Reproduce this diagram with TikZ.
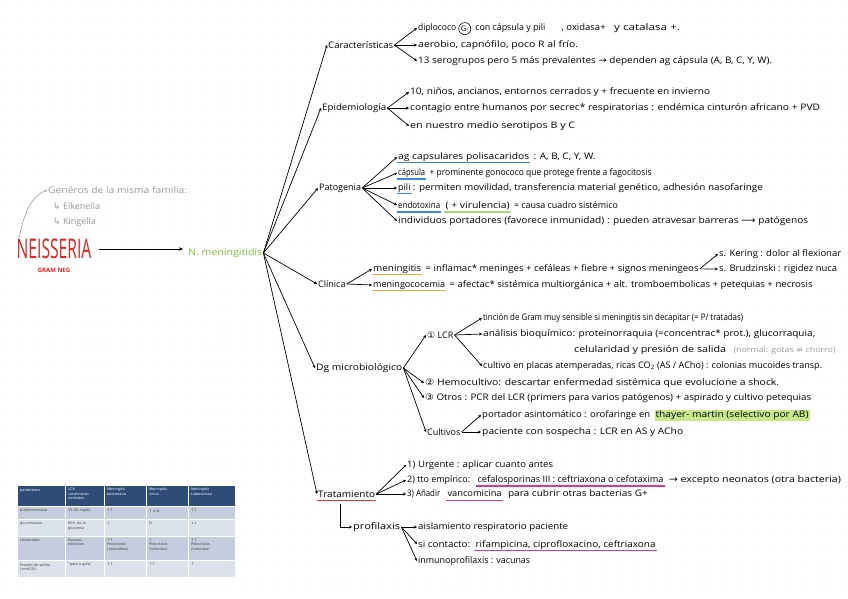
\documentclass[tikz,border=0pt]{standalone}
\usepackage{fontspec}
\setmainfont{Open Sans}
\newfontfamily\symfont{DejaVu Sans}
\usetikzlibrary{arrows.meta,positioning}
\definecolor{neisred}{HTML}{E3231E}
\definecolor{nmgreen}{HTML}{7CC23A}
\definecolor{famgrey}{HTML}{9A9A9A}
\definecolor{ulblue}{HTML}{3B87E6}
\definecolor{ulgreen}{HTML}{A9D870}
\definecolor{hlgreen}{HTML}{C6E98A}
\definecolor{ulorange}{HTML}{F2A43A}
\definecolor{ulpink}{HTML}{E23790}
\definecolor{ulred}{HTML}{E2302E}
\definecolor{tabhead}{HTML}{2E4C77}
\definecolor{tabdark}{HTML}{C3CDDD}
\definecolor{tablight}{HTML}{DCE2EC}
% stretch a handwritten line to the width it has in the notes
\newcommand{\fitw}[2]{\setbox0\hbox{#2}\pgfmathsetmacro\fitscale{#1/\wd0}\scalebox{\fitscale}[1]{\box0}}

\begin{document}
\begin{tikzpicture}[x=1pt,y=-1pt,every node/.style={font=\fontsize{9}{10}\selectfont,inner sep=1pt},
  item/.style={anchor=west},
  seg/.style={anchor=base west},
  fan/.style={line width=0.7pt,-{Stealth[length=3pt,width=3pt]}},
  ul/.style={draw=#1,line width=1.3pt},
  tabtxt/.style={anchor=north west,font=\symfont\fontsize{3.5}{4.2}\selectfont,text width=38pt,align=left,inner sep=0pt,text=black!75}]
\fill[white] (0,0) rectangle (848,599);
\useasboundingbox (0,0) rectangle (848,599);
\foreach \i in {0,...,56}
  \foreach \j in {0,...,39}
    \fill[black!13] (\i*15+6,\j*15+6) circle (0.5);

% genus
\node[item,text=famgrey] (fam) at (47,190) {\fitw{139}{Genéros de la misma familia:}};
\node[item,text=famgrey] (eik) at (52,206) {{\symfont ↳} Eikenella};
\node[item,text=famgrey] (kin) at (52,222) {{\symfont ↳} Kingella};
\node[text=neisred,font=\fontsize{27}{27}\selectfont] (neis) at (54,249) {\scalebox{0.58}[1]{NEISSERIA}};
\node[text=neisred,font=\bfseries\fontsize{6}{6}\selectfont] (gram) at (54,270) {GRAM NEG};
\node[item,text=nmgreen,font=\fontsize{9.2}{10}\selectfont] (nm) at (187,253) {\fitw{74}{N. meningitidis}};
\draw[famgrey,line width=0.6pt,-{Stealth[length=2.5pt,width=2.5pt]}] (neis.north west) ++(4,-1) .. controls (24,212) and (32,196) .. (fam.west);
\draw[line width=1pt,-{Stealth[length=4pt,width=3.5pt]},shorten <=6pt,shorten >=4pt] (neis.east) -- (nm.west |- neis.east);

% branches
\node[item] (car) at (327,45) {\fitw{65}{Características}};
\node[item] (epi) at (321,108) {\fitw{64}{Epidemiología}};
\node[item] (pat) at (318,188) {Patogenia};
\node[item] (cli) at (317,284) {Clínica};
\node[item] (dg) at (315,368) {\fitw{86}{Dg microbiológico}};
\node[item] (tra) at (317,494) {\fitw{57}{Tratamiento}};
\foreach \c in {car,epi,pat,cli,dg,tra}
  \draw[fan] (nm.east) -- (\c.west);

% caracteristicas
\node[item] (c1) at (417,28) {\fitw{38}{diplococo}};
\node[seg,circle,draw,line width=0.6pt,inner sep=0.9pt,font=\fontsize{7.5}{7.5}\selectfont] (c1g) at ([xshift=1pt,yshift=-1pt]c1.base east) {G-};
\node[seg] (c1b) at ([xshift=3pt,yshift=1pt]c1g.base east) {\fitw{70}{con cápsula y pili}};
\node[seg] (c1c) at ([xshift=14pt]c1b.base east) {\fitw{44}{, oxidasa+}};
\node[seg] (c1d) at ([xshift=6pt]c1c.base east) {\fitw{66}{y catalasa +.}};
\node[item] (c2) at (417,45) {\fitw{160}{aerobio, capnófilo, poco R al frío.}};
\node[item] (c3) at (417,61) {\fitw{354}{13 serogrupos pero 5 más prevalentes {\symfont →} dependen ag cápsula (A, B, C, Y, W).}};
\foreach \i in {c1,c2,c3}
  \draw[fan] (car.east) -- (\i.west);

% epidemiologia
\node[item] (e1) at (409,92) {\fitw{300}{10, niños, ancianos, entornos cerrados y + frecuente en invierno}};
\node[item] (e2) at (409,108) {\fitw{410}{contagio entre humanos por secrec* respiratorias : endémica cinturón africano + PVD}};
\node[item] (e3) at (409,126) {\fitw{165}{en nuestro medio serotipos B y C}};
\foreach \i in {e1,e2,e3}
  \draw[fan] (epi.east) -- (\i.west);

% patogenia
\node[item] (p1) at (397,157) {\fitw{131}{ag capsulares polisacaridos}};
\node[seg] (p1b) at ([xshift=2pt]p1.base east) {\fitw{62}{: A, B, C, Y, W.}};
\node[item] (p2) at (397,173) {\fitw{27}{cápsula}};
\node[seg] (p2b) at ([xshift=2pt]p2.base east) {\fitw{222}{+ prominente gonococo que protege frente a fagocitosis}};
\node[item] (p3) at (397,188) {pili};
\node[seg] (p3b) at (p3.base east) {\fitw{350}{: permiten movilidad, transferencia material genético, adhesión nasofaringe}};
\node[item] (p4) at (397,205) {\fitw{42}{endotoxina}};
\node[seg] (p4b) at ([xshift=3pt]p4.base east) {\fitw{64}{( + virulencia)}};
\node[seg] (p4c) at ([xshift=2pt]p4b.base east) {\fitw{104}{= causa cuadro sistémico}};
\node[item] (p5) at (397,221) {\fitw{410}{individuos portadores (favorece inmunidad) : pueden atravesar barreras {\symfont ⟶} patógenos}};
\foreach \i in {p1,p2,p3,p4,p5}
  \draw[fan] (pat.east) -- (\i.west);
\foreach \i in {p1,p2,p3,p4}
  \draw[ul=ulblue] ([yshift=-3.5pt]\i.base west) -- ([yshift=-3.5pt]\i.base east);
\draw[ul=ulgreen] ([yshift=-3.5pt]p4b.base west) -- ([yshift=-3.5pt]p4b.base east);

% clinica
\node[item] (l1) at (372,269) {\fitw{48}{meningitis}};
\node[seg] (l1b) at ([xshift=2pt]l1.base east) {\fitw{273}{= inflamac* meninges + cefáleas + fiebre + signos meningeos}};
\node[item] (l2) at (372,285) {\fitw{72}{meningococemia}};
\node[seg] (l2b) at ([xshift=2pt]l2.base east) {\fitw{363}{= afectac* sistémica multiorgánica + alt. tromboembolicas + petequias + necrosis}};
\draw[fan] (cli.east) -- (l1.west);
\draw[fan] (cli.east) -- (l2.west);
\draw[ul=ulorange] ([yshift=-3.5pt]l1.base west) -- ([yshift=-3.5pt]l1.base east);
\draw[ul=ulorange] ([yshift=-3.5pt]l2.base west) -- ([yshift=-3.5pt]l2.base east);
\node[item] (k1) at (718,254) {\fitw{122}{s. Kering : dolor al flexionar}};
\node[item] (k2) at (718,269) {\fitw{118}{s. Brudzinski : rigidez nuca}};
\draw[fan] (l1b.east) -- (k1.west);
\draw[fan] (l1b.east) -- (k2.west);

% dg microbiologico
\node[item] (lcr) at (426,335) {{\symfont ①} LCR};
\node[item] (d2) at (424,383) {\fitw{354}{{\symfont ②} Hemocultivo: descartar enfermedad sistémica que evolucione a shock.}};
\node[item] (d3) at (424,398) {\fitw{386}{{\symfont ③} Otros : PCR del LCR (primers para varios patógenos) + aspirado y cultivo petequias}};
\node[item] (cul) at (426,432) {Cultivos};
\foreach \i in {lcr,d2,d3,cul}
  \draw[fan] (dg.east) -- (\i.west);
\node[item] (q1) at (482,318) {\fitw{260}{tinción de Gram muy sensible si meningitis sin decapitar (= P/ tratadas)}};
\node[item] (q2) at (482,334) {\fitw{332}{análisis bioquímico: proteinorraquia (=concentrac* prot.), glucorraquia,}};
\node[item] (q2b) at (573,350) {\fitw{152}{celularidad y presión de salida}};
\node[seg,text=famgrey,font=\fontsize{7.5}{9}\selectfont] (q2c) at ([xshift=5pt]q2b.base east) {\fitw{102}{(normal: gotas {\symfont ≠} chorro)}};
\node[item] (q3) at (482,366) {\fitw{339}{cultivo en placas atemperadas, ricas CO\textsubscript{2} (AS / ACho) : colonias mucoides transp.}};
\foreach \i in {q1,q2,q3}
  \draw[fan] (lcr.east) -- (\i.west);
\node[item] (u1) at (481,415) {\fitw{168}{portador asintomático : orofaringe en}};
\node[seg,fill=hlgreen] (u1b) at ([xshift=3pt]u1.base east) {\fitw{153}{thayer- martin (selectivo por AB)}};
\node[item] (u2) at (481,432) {\fitw{201}{paciente con sospecha : LCR en AS y ACho}};
\draw[fan] (cul.east) -- (u1.west);
\draw[fan] (cul.east) -- (u2.west);

% tratamiento
\draw[ul=ulred] ([yshift=-3.5pt]tra.base west) -- ([yshift=-3.5pt]tra.base east);
\node[item] (t1) at (406,465) {\fitw{146}{1) Urgente : aplicar cuanto antes}};
\node[item] (t2) at (406,480) {\fitw{63}{2) tto empírico:}};
\node[seg] (t2b) at ([xshift=5pt]t2.base east) {\fitw{186}{cefalosporinas III : ceftriaxona o cefotaxima}};
\node[seg] (t2c) at ([xshift=3pt]t2b.base east) {\fitw{172}{{\symfont →} excepto neonatos (otra bacteria)}};
\node[item] (t3) at (406,494) {\fitw{33}{3) Añadir}};
\node[seg] (t3b) at ([xshift=5pt]t3.base east) {\fitw{54}{vancomicina}};
\node[seg] (t3c) at ([xshift=4pt]t3b.base east) {\fitw{140}{para cubrir otras bacterias G+}};
\foreach \i in {t1,t2,t3}
  \draw[fan] (tra.east) -- (\i.west);
\draw[ul=ulpink] ([yshift=-3.5pt]t2b.base west) -- ([yshift=-3.5pt]t2b.base east);
\draw[ul=ulpink] ([yshift=-3.5pt]t3b.base west) -- ([yshift=-3.5pt]t3b.base east);
\node[item] (prof) at (352,527) {\fitw{47}{profilaxis}};
\draw[fan] ([xshift=-6pt,yshift=-5pt]tra.south) |- (prof.west);
\node[item] (r1) at (417,527) {\fitw{150}{aislamiento respiratorio paciente}};
\node[item] (r2) at (417,544) {\fitw{52}{si contacto:}};
\node[seg] (r2b) at ([xshift=3pt]r2.base east) {\fitw{180}{rifampicina, ciprofloxacino, ceftriaxona}};
\node[item] (r3) at (417,561) {\fitw{112}{inmunoprofilaxis : vacunas}};
\foreach \i in {r1,r2,r3}
  \draw[fan] (prof.east) -- (\i.west);
\draw[ul=ulpink] ([yshift=-3.5pt]r2b.base west) -- ([yshift=-3.5pt]r2b.base east);

% tabla LCR
\foreach \xa/\xb in {17/65,65/104,104/146,146/188,188/235} {
  \filldraw[fill=tabhead,draw=white,line width=0.6pt] (\xa,485) rectangle (\xb,506);
  \filldraw[fill=tabdark,draw=white,line width=0.6pt] (\xa,506) rectangle (\xb,519);
  \filldraw[fill=tablight,draw=white,line width=0.6pt] (\xa,519) rectangle (\xb,536);
  \filldraw[fill=tabdark,draw=white,line width=0.6pt] (\xa,536) rectangle (\xb,560);
  \filldraw[fill=tablight,draw=white,line width=0.6pt] (\xa,560) rectangle (\xb,577);
}
\foreach \x/\t in {17/parámetros,65/{LCR\\condiciones\\normales},104/{Meningitis\\bacteriana},146/{Meningitis\\vírica},188/{Meningitis\\tuberculosa}}
  \node[tabtxt,text=white] (h\x) at (\x+3,488) {\t};
\foreach \x/\t in {17/proteinorraquia,65/{15-45 mg/dL},104/↑↑,146/{↑ ó N},188/↑↑}
  \node[tabtxt] (a\x) at (\x+3,509) {\t};
\foreach \x/\t in {17/glucorraquia,65/{60\% de la\\glucemia},104/↓,146/N,188/↓↓}
  \node[tabtxt] (b\x) at (\x+3,522) {\t};
\foreach \x/\t in {17/celularidad,65/{Escasos\\linfocitos},104/{↑↑\\Pleocitosis\\(neutrófilos)},146/{↑\\Pleocitosis\\(linfocitos)},188/{↑↑\\Pleocitosis\\(linfocitos)}}
  \node[tabtxt] (c\x) at (\x+3,539) {\t};
\foreach \x/\t in {17/{Presión de salida\\(cmH2O)},65/{"gota a gota"},104/↑↑,146/↑↑,188/↑}
  \node[tabtxt] (d\x) at (\x+3,563) {\t};
\end{tikzpicture}
\end{document}
